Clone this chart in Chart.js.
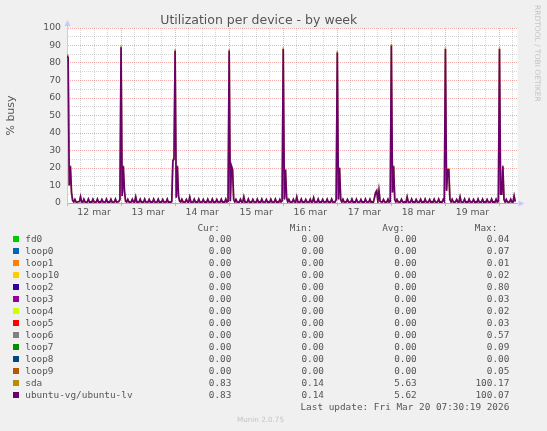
<!DOCTYPE html>
<html>
<head>
<meta charset="utf-8">
<title>Utilization per device - by week</title>
<script src="https://cdn.jsdelivr.net/npm/chart.js@4.4.1/dist/chart.umd.min.js"></script>
<style>
  html, body { margin: 0; padding: 0; background: #f0f0f0; }
  #wrap { position: relative; width: 547px; height: 431px; overflow: hidden; }
  #chart { position: absolute; left: 0; top: 0; }
  .mono { position: absolute; white-space: pre; font-family: "DejaVu Sans Mono", monospace;
          font-size: 9.4px; line-height: 12px; color: #555; }
  .sw { position: absolute; width: 6px; height: 6px; }
  .faint { position: absolute; white-space: pre; font-family: "DejaVu Sans", sans-serif; color: #c4c4c4; }
</style>
</head>
<body>
<div id="wrap">
  <canvas id="chart" width="547" height="431"></canvas>
</div>
<script>
// half-hour samples starting Mar 12 00:00 (x axis is in hours)
var stepHours = 0.5;
var dayLabels = ['12 mar', '13 mar', '14 mar', '15 mar', '16 mar', '17 mar', '18 mar', '19 mar'];

// ubuntu-vg/ubuntu-lv, one row per day
var lvBusy = [
  84, 83, 10, 21, 6, 1.5, 0.6, 2.0, 0.6, 0.5, 0.7, 0.8, 3.6, 0.6, 0.5, 2.1, 0.6, 0.5, 0.6, 2.2, 0.5, 0.6, 0.5, 2.1,
  0.6, 0.5, 0.6, 2.2, 0.5, 0.6, 0.5, 2.0, 0.6, 0.5, 0.6, 2.2, 0.5, 0.6, 0.5, 2.1, 0.6, 0.5, 0.6, 2.2, 0.5, 0.6, 0.8, 2.0,
  89, 4, 21, 7, 1, 0.6, 2.0, 0.6, 0.5, 0.6, 2.1, 0.6, 0.5, 3.5, 0.6, 0.5, 0.6, 2.1, 0.5, 0.6, 0.5, 2.2, 0.6, 0.5,
  0.6, 2.0, 0.5, 0.6, 0.5, 2.2, 0.6, 0.5, 0.6, 2.1, 0.5, 0.6, 0.5, 2.0, 0.6, 0.5, 0.6, 2.2, 0.5, 0.6, 0.5, 0.8, 24, 25,
  87, 3, 21, 4, 1, 0.6, 2.1, 0.6, 0.5, 0.6, 2.0, 0.6, 0.5, 3.4, 0.6, 0.5, 0.6, 2.1, 0.5, 0.6, 0.5, 2.2, 0.6, 0.5,
  0.6, 2.0, 0.5, 0.6, 0.5, 2.1, 0.6, 0.5, 0.6, 2.2, 0.5, 0.6, 0.5, 2.0, 0.6, 0.5, 0.6, 2.1, 0.5, 0.6, 0.5, 2.2, 0.6, 1.0,
  87, 1, 21, 19, 2, 0.6, 2.0, 0.6, 0.5, 0.6, 2.1, 0.6, 0.5, 3.5, 0.6, 0.5, 0.6, 2.2, 0.5, 0.6, 0.5, 2.0, 0.6, 0.5,
  0.6, 2.1, 0.5, 0.6, 0.5, 2.2, 0.6, 0.5, 0.6, 2.0, 0.5, 0.6, 0.5, 2.1, 0.6, 0.5, 0.6, 2.2, 0.5, 0.6, 0.5, 2.0, 0.6, 1.2,
  88, 2, 19, 3, 0.6, 2.0, 0.6, 0.5, 0.6, 2.1, 0.6, 0.5, 3.5, 0.6, 0.5, 0.6, 2.2, 0.5, 0.6, 0.5, 2.0, 0.6, 0.5, 0.6,
  2.1, 0.5, 0.6, 3.0, 0.6, 0.5, 0.6, 2.2, 0.5, 0.6, 0.5, 2.0, 0.6, 0.5, 0.6, 2.1, 0.5, 0.6, 0.5, 2.2, 0.6, 0.5, 0.6, 2.0,
  86, 2, 20, 2, 0.6, 2.1, 0.6, 0.5, 0.6, 2.0, 0.6, 0.5, 0.6, 2.2, 0.5, 0.6, 0.5, 2.1, 0.6, 0.5, 0.6, 2.0, 0.5, 0.6,
  0.5, 2.2, 0.6, 0.5, 0.6, 2.1, 0.5, 0.6, 0.5, 3, 6, 7, 1, 7, 1, 0.6, 0.5, 2.0, 0.6, 0.5, 0.6, 2.1, 0.5, 0.9,
  90, 6, 21, 2, 0.6, 2.0, 0.6, 0.5, 0.6, 2.1, 0.6, 0.5, 0.6, 0.5, 3.5, 0.6, 0.5, 0.6, 2.2, 0.5, 0.6, 0.5, 2.0, 0.6,
  0.5, 0.6, 2.1, 0.5, 0.6, 0.5, 2.2, 0.6, 0.5, 0.6, 2.0, 0.5, 0.6, 0.5, 2.1, 0.6, 0.5, 0.6, 2.2, 0.5, 0.6, 0.5, 2.0, 1.0,
  88, 7, 19, 19, 2, 0.6, 2.1, 0.6, 0.5, 0.6, 2.0, 0.6, 0.5, 3.5, 0.6, 0.5, 0.6, 2.2, 0.5, 0.6, 0.5, 2.1, 0.6, 0.5,
  0.6, 2.0, 0.5, 0.6, 0.5, 2.2, 0.6, 0.5, 0.6, 2.1, 0.5, 0.6, 0.5, 2.0, 0.6, 0.5, 0.6, 2.2, 0.5, 0.6, 0.5, 2.1, 0.6, 0.9,
  88, 5, 5, 21, 2, 0.6, 2.0, 0.6, 0.5, 0.6, 2.1, 0.6, 0.5, 4, 0.8
];

// sda, almost the same trace, a touch higher on the spikes
var sdaBusy = [
  85, 84, 10, 21.5, 6, 1.5, 0.6, 2.0, 0.6, 0.5, 0.7, 0.8, 3.6, 0.6, 0.5, 2.1, 0.6, 0.5, 0.6, 2.2, 0.5, 0.6, 0.5, 2.1,
  0.6, 0.5, 0.6, 2.2, 0.5, 0.6, 0.5, 2.0, 0.6, 0.5, 0.6, 2.2, 0.5, 0.6, 0.5, 2.1, 0.6, 0.5, 0.6, 2.2, 0.5, 0.6, 0.8, 2.0,
  90, 4, 21.5, 7, 1, 0.6, 2.0, 0.6, 0.5, 0.6, 2.1, 0.6, 0.5, 3.5, 0.6, 0.5, 0.6, 2.1, 0.5, 0.6, 0.5, 2.2, 0.6, 0.5,
  0.6, 2.0, 0.5, 0.6, 0.5, 2.2, 0.6, 0.5, 0.6, 2.1, 0.5, 0.6, 0.5, 2.0, 0.6, 0.5, 0.6, 2.2, 0.5, 0.6, 0.5, 0.8, 24.8, 25.5,
  88, 3, 21.5, 4, 1, 0.6, 2.1, 0.6, 0.5, 0.6, 2.0, 0.6, 0.5, 3.4, 0.6, 0.5, 0.6, 2.1, 0.5, 0.6, 0.5, 2.2, 0.6, 0.5,
  0.6, 2.0, 0.5, 0.6, 0.5, 2.1, 0.6, 0.5, 0.6, 2.2, 0.5, 0.6, 0.5, 2.0, 0.6, 0.5, 0.6, 2.1, 0.5, 0.6, 0.5, 2.2, 0.6, 1.0,
  88, 1, 21.5, 19.5, 2, 0.6, 2.0, 0.6, 0.5, 0.6, 2.1, 0.6, 0.5, 3.5, 0.6, 0.5, 0.6, 2.2, 0.5, 0.6, 0.5, 2.0, 0.6, 0.5,
  0.6, 2.1, 0.5, 0.6, 0.5, 2.2, 0.6, 0.5, 0.6, 2.0, 0.5, 0.6, 0.5, 2.1, 0.6, 0.5, 0.6, 2.2, 0.5, 0.6, 0.5, 2.0, 0.6, 1.2,
  89, 2, 19.5, 3, 0.6, 2.0, 0.6, 0.5, 0.6, 2.1, 0.6, 0.5, 3.5, 0.6, 0.5, 0.6, 2.2, 0.5, 0.6, 0.5, 2.0, 0.6, 0.5, 0.6,
  2.1, 0.5, 0.6, 3.0, 0.6, 0.5, 0.6, 2.2, 0.5, 0.6, 0.5, 2.0, 0.6, 0.5, 0.6, 2.1, 0.5, 0.6, 0.5, 2.2, 0.6, 0.5, 0.6, 2.0,
  87, 2, 20.5, 2, 0.6, 2.1, 0.6, 0.5, 0.6, 2.0, 0.6, 0.5, 0.6, 2.2, 0.5, 0.6, 0.5, 2.1, 0.6, 0.5, 0.6, 2.0, 0.5, 0.6,
  0.5, 2.2, 0.6, 0.5, 0.6, 2.1, 0.5, 0.6, 0.5, 3, 6, 7.3, 1, 7.3, 1, 0.6, 0.5, 2.0, 0.6, 0.5, 0.6, 2.1, 0.5, 0.9,
  91, 6, 21.5, 2, 0.6, 2.0, 0.6, 0.5, 0.6, 2.1, 0.6, 0.5, 0.6, 0.5, 3.5, 0.6, 0.5, 0.6, 2.2, 0.5, 0.6, 0.5, 2.0, 0.6,
  0.5, 0.6, 2.1, 0.5, 0.6, 0.5, 2.2, 0.6, 0.5, 0.6, 2.0, 0.5, 0.6, 0.5, 2.1, 0.6, 0.5, 0.6, 2.2, 0.5, 0.6, 0.5, 2.0, 1.0,
  89, 7, 19.5, 19.5, 2, 0.6, 2.1, 0.6, 0.5, 0.6, 2.0, 0.6, 0.5, 3.5, 0.6, 0.5, 0.6, 2.2, 0.5, 0.6, 0.5, 2.1, 0.6, 0.5,
  0.6, 2.0, 0.5, 0.6, 0.5, 2.2, 0.6, 0.5, 0.6, 2.1, 0.5, 0.6, 0.5, 2.0, 0.6, 0.5, 0.6, 2.2, 0.5, 0.6, 0.5, 2.1, 0.6, 0.9,
  89, 5, 5, 21.5, 2, 0.6, 2.0, 0.6, 0.5, 0.6, 2.1, 0.6, 0.5, 4, 0.8
];

// legend table
var deviceNames = ['fd0', 'loop0', 'loop1', 'loop10', 'loop2', 'loop3', 'loop4', 'loop5',
                   'loop6', 'loop7', 'loop8', 'loop9', 'sda', 'ubuntu-vg/ubuntu-lv'];
var deviceColors = ['#00cc00', '#0066b3', '#ff8000', '#ffcc00', '#330099', '#990099', '#ccff00', '#ff0000',
                    '#808080', '#008f00', '#00487d', '#b35a00', '#b38f00', '#6b006b'];
var curValues = [0, 0, 0, 0, 0, 0, 0, 0, 0, 0, 0, 0, 0.83, 0.83];
var minValues = [0, 0, 0, 0, 0, 0, 0, 0, 0, 0, 0, 0, 0.14, 0.14];
var avgValues = [0, 0, 0, 0, 0, 0, 0, 0, 0, 0, 0, 0, 5.63, 5.62];
var maxValues = [0.04, 0.07, 0.01, 0.02, 0.80, 0.03, 0.02, 0.03, 0.57, 0.09, 0.00, 0.05, 100.17, 100.07];
var lastUpdate = 'Last update: Fri Mar 20 07:30:19 2026';

function toPoints(arr) {
  return arr.map(function (v, i) { return { x: i * stepHours, y: v }; });
}

var majorGrid = 'rgba(225, 0, 0, 0.32)';
var minorGrid = 'rgba(120, 120, 120, 0.3)';
var axisBlue = '#c8c8ff';

var arrows = {
  id: 'arrows',
  beforeDraw: function (chart) {
    var a = chart.chartArea, c = chart.ctx;
    c.save();
    c.fillStyle = '#ffffff';
    c.fillRect(a.left, a.top, a.right - a.left, a.bottom - a.top);
    c.restore();
  },
  afterDraw: function (chart) {
    var a = chart.chartArea, c = chart.ctx;
    c.save();
    c.fillStyle = axisBlue;
    c.strokeStyle = axisBlue;
    c.lineWidth = 1;
    c.beginPath();
    c.moveTo(a.left + 0.5, a.top);
    c.lineTo(a.left + 0.5, a.top - 4);
    c.stroke();
    c.beginPath();
    c.moveTo(a.left - 2.5, a.top - 2);
    c.lineTo(a.left + 3.5, a.top - 2);
    c.lineTo(a.left + 0.5, a.top - 8);
    c.closePath();
    c.fill();
    c.beginPath();
    c.moveTo(a.right + 1, a.bottom - 2.5);
    c.lineTo(a.right + 1, a.bottom + 3.5);
    c.lineTo(a.right + 7, a.bottom + 0.5);
    c.closePath();
    c.fill();
    c.restore();
  }
};

Chart.defaults.font.family = '"DejaVu Sans", sans-serif';

new Chart(document.getElementById('chart').getContext('2d'), {
  type: 'line',
  data: {
    datasets: [
      {
        label: 'ubuntu-vg/ubuntu-lv',
        data: toPoints(lvBusy),
        borderColor: deviceColors[13],
        borderWidth: 1.7,
        pointRadius: 0,
        tension: 0,
        order: 0
      },
      {
        label: 'sda',
        data: toPoints(sdaBusy),
        borderColor: 'rgba(179, 143, 0, 0.8)',
        borderWidth: 1.6,
        pointRadius: 0,
        tension: 0,
        order: 1
      }
    ]
  },
  options: {
    responsive: false,
    animation: false,
    layout: { padding: { left: 0, right: 29.5, top: 0, bottom: 0 } },
    plugins: {
      legend: { display: false },
      tooltip: { enabled: false },
      title: {
        display: true,
        text: 'Utilization per device - by week',
        color: '#555',
        font: { size: 12.5, weight: 'normal' },
        padding: { top: 13, bottom: 0 }
      }
    },
    scales: {
      x: {
        type: 'linear',
        min: 0,
        max: 200,
        afterFit: function (s) { s.height = 228; },
        afterBuildTicks: function (s) {
          var t = [];
          for (var h = 0; h < 200; h += 6) t.push({ value: h });
          s.ticks = t;
        },
        ticks: {
          autoSkip: false,
          maxRotation: 0,
          padding: 1,
          color: '#555',
          font: { size: 9.3 },
          callback: function (v) {
            return v % 24 === 12 ? dayLabels[(v - 12) / 24] : '';
          }
        },
        grid: {
          color: function (ctx) { return ctx.tick && ctx.tick.value % 24 === 0 ? majorGrid : minorGrid; },
          tickColor: function (ctx) { return ctx.tick && ctx.tick.value % 24 === 0 ? majorGrid : 'rgba(0,0,0,0)'; },
          tickLength: 3,
          lineWidth: 1
        },
        border: { display: true, color: '#d4a4a4', dash: [1, 1] }
      },
      y: {
        min: 0,
        max: 100,
        afterFit: function (s) { s.width = 67; },
        title: {
          display: true,
          text: '% busy',
          color: '#555',
          font: { size: 11 },
          padding: { top: 5, bottom: 0 }
        },
        ticks: {
          stepSize: 5,
          autoSkip: false,
          padding: 6,
          color: '#555',
          font: { size: 9.3 },
          callback: function (v) { return v % 10 === 0 ? v : ''; }
        },
        grid: {
          color: function (ctx) { return ctx.tick && ctx.tick.value % 10 === 0 ? majorGrid : minorGrid; },
          drawTicks: false,
          lineWidth: 1
        },
        border: { display: true, color: axisBlue, dash: [1, 1] }
      }
    }
  },
  plugins: [arrows]
});

// legend table below the plot
var wrap = document.getElementById('wrap');
function put(text, x, y, alignRight, cls) {
  var d = document.createElement('div');
  d.className = cls || 'mono';
  d.textContent = text;
  d.style.top = (y - 6) + 'px';
  if (alignRight) d.style.right = (547 - x) + 'px'; else d.style.left = x + 'px';
  wrap.appendChild(d);
}
var colRight = [231.3, 324, 416.7, 509.3];
var headRight = [220, 312.3, 404.7, 497.3];
['Cur:', 'Min:', 'Avg:', 'Max:'].forEach(function (h, i) { put(h, headRight[i], 228.3, true); });
deviceNames.forEach(function (name, i) {
  var y = 239.3 + i * 12;
  var sw = document.createElement('div');
  sw.className = 'sw';
  sw.style.left = '13px';
  sw.style.top = (y - 3) + 'px';
  sw.style.background = deviceColors[i];
  wrap.appendChild(sw);
  put(name, 25.3, y, false);
  [curValues, minValues, avgValues, maxValues].forEach(function (col, j) {
    put(col[i].toFixed(2), colRight[j], y, true);
  });
});
put(lastUpdate, 509.3, 407.3, true);

var munin = document.createElement('div');
munin.className = 'faint';
munin.textContent = 'Munin 2.0.75';
munin.style.fontSize = '7.2px';
munin.style.lineHeight = '10px';
munin.style.left = '237px';
munin.style.top = '414.7px';
wrap.appendChild(munin);

var rrd = document.createElement('div');
rrd.className = 'faint';
rrd.textContent = 'RRDTOOL / TOBI OETIKER';
rrd.style.fontSize = '7.5px';
rrd.style.lineHeight = '9px';
rrd.style.left = '542.2px';
rrd.style.top = '5px';
rrd.style.transformOrigin = '0 0';
rrd.style.transform = 'rotate(90deg)';
wrap.appendChild(rrd);
</script>
</body>
</html>
